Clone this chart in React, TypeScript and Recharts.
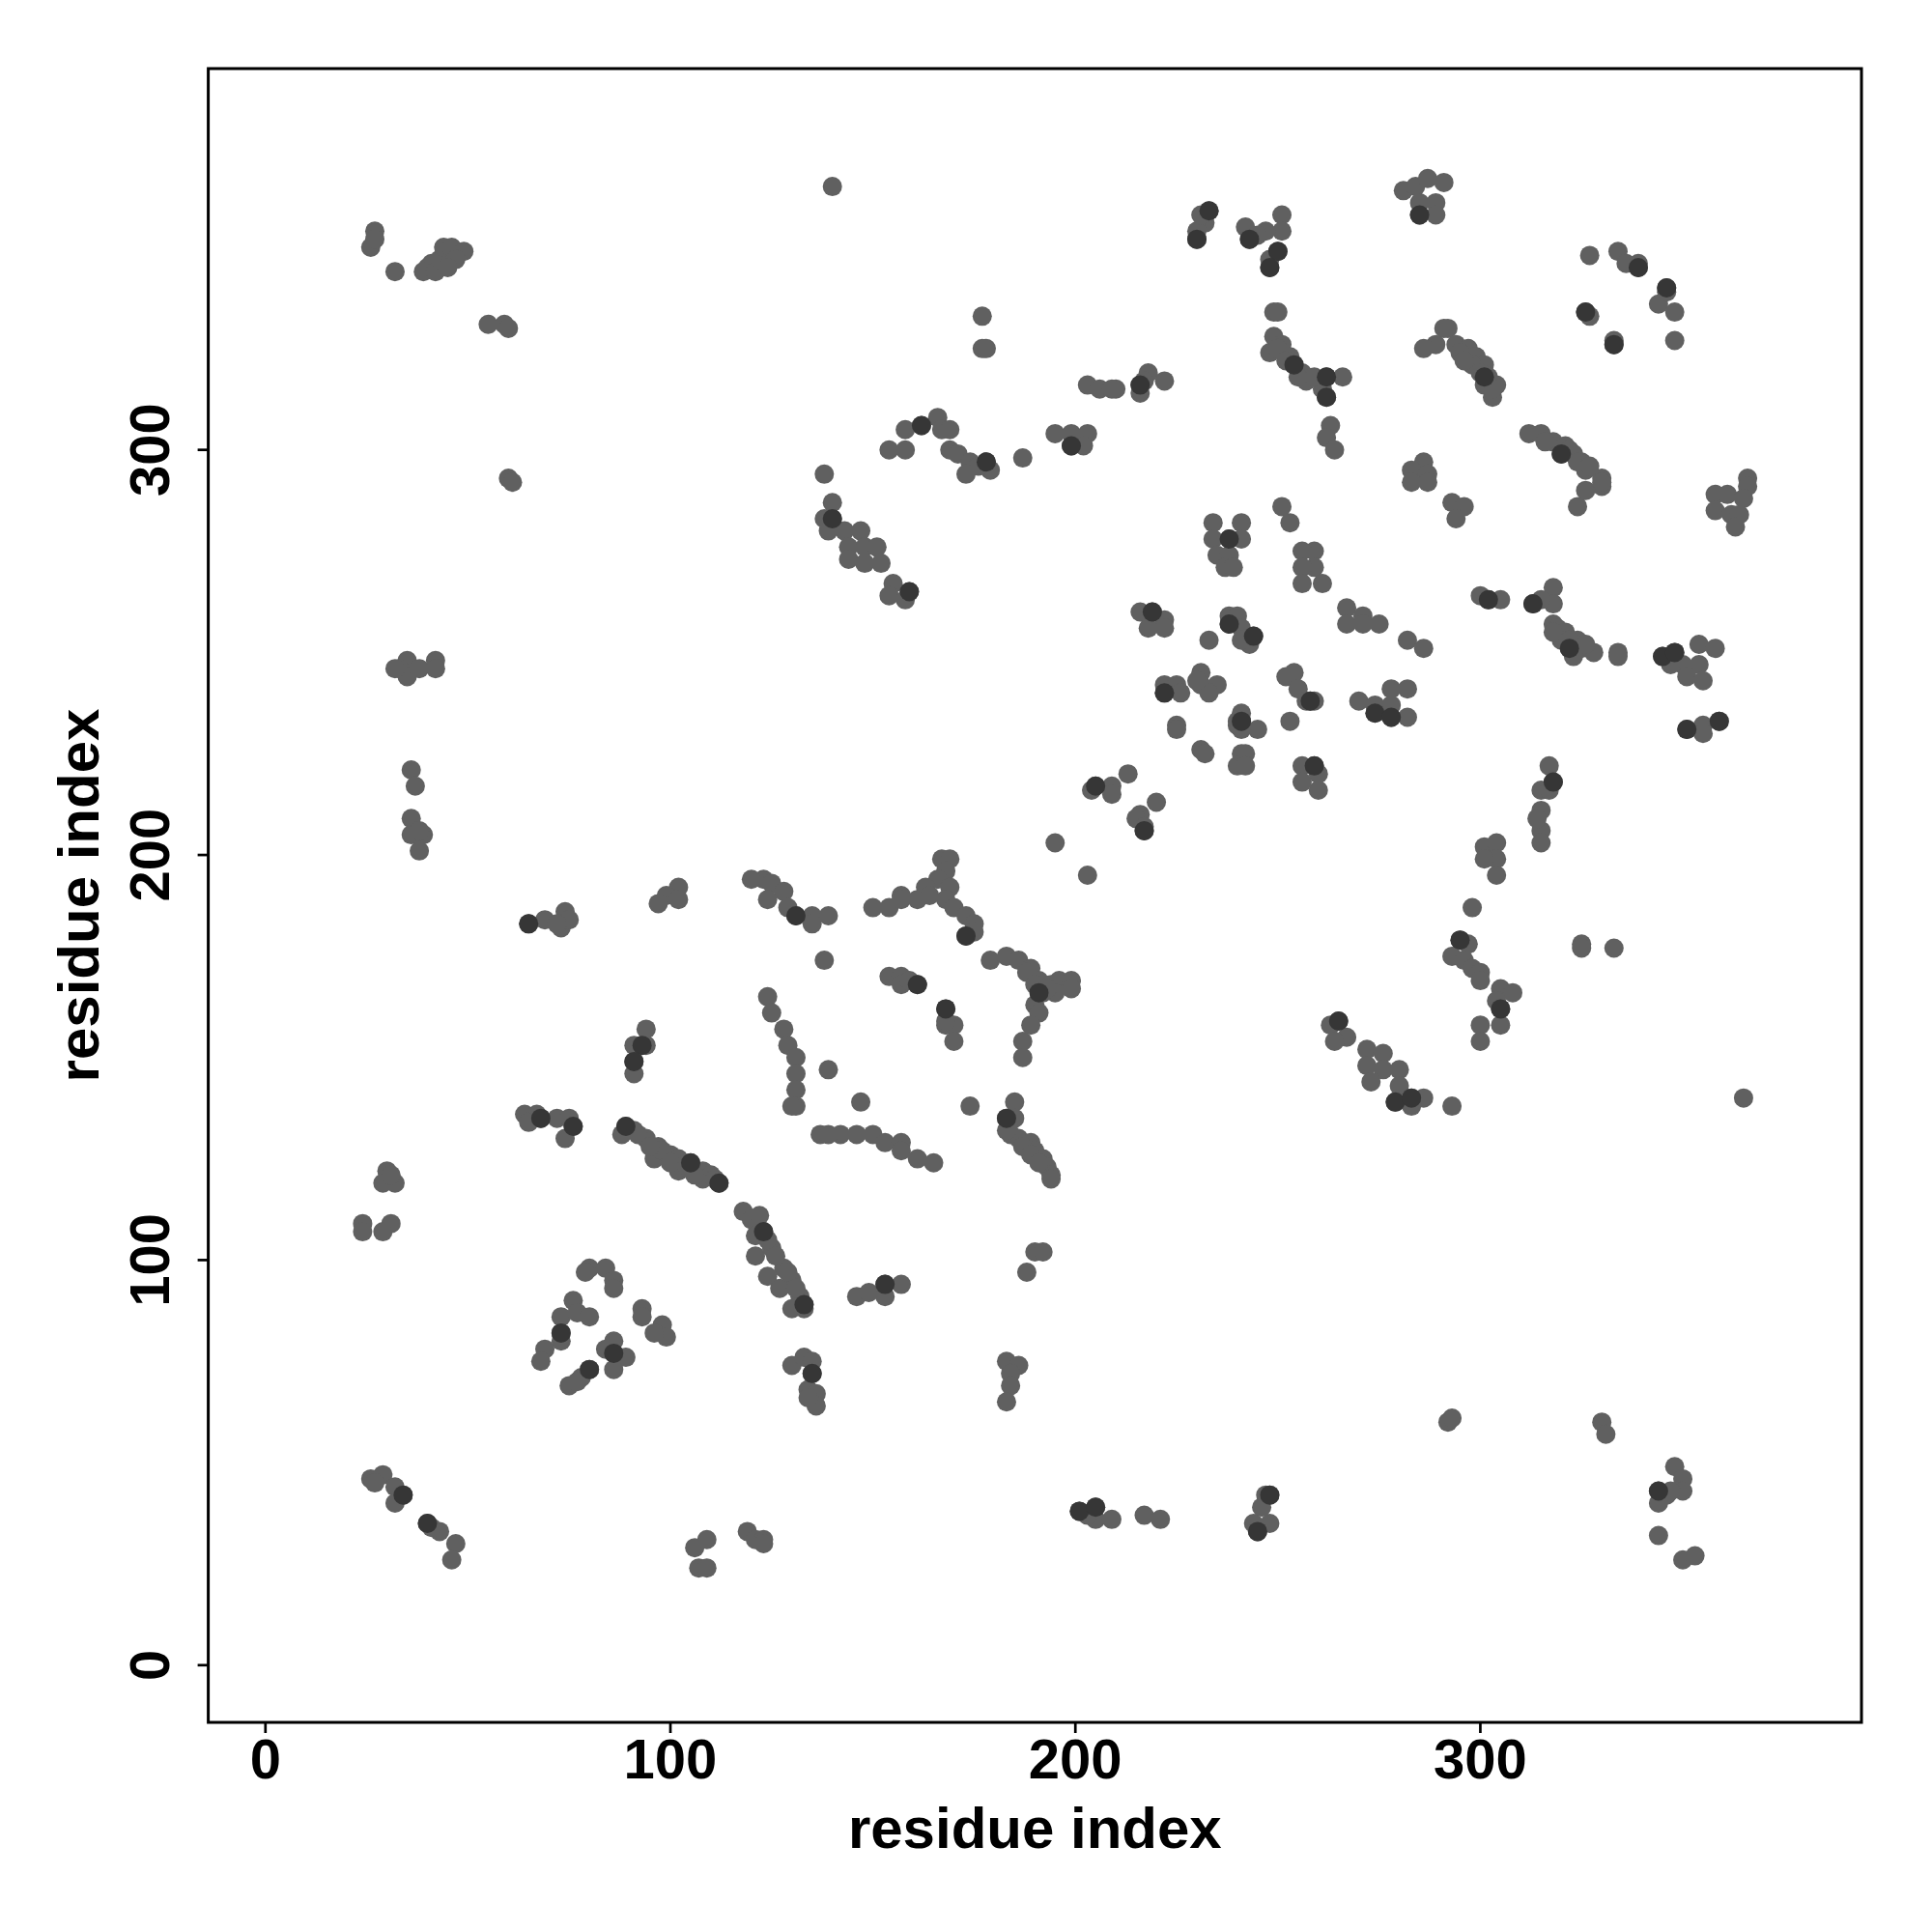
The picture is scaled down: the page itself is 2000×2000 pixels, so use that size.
import React from 'react';
import { ScatterChart, Scatter, XAxis, YAxis, ReferenceArea } from 'recharts';

// Contact pairs [residue i, residue j], grouped by region of the map
const topLeftContacts = [
  [27,354],[26,350],[27,352],[32,344],[40,345],[41,346],[39,344],[42,344],[43,347],[44,350],[46,350],[49,349],[47,347],[45,345],
  [55,331],[59,331],[60,330],[60,293],[61,292],
];
const topMiddleContacts = [
  [140,365],[177,333],[177,325],[178,325],
  [233,359],[232,356],[230,354],[230,352],[231,358],
  [242,355],[251,358],[251,354],[247,354],[248,347],[248,345],[245,353],[250,349],[243,352],
  [249,334],[250,334],
  [249,328],[248,324],[251,326],[253,323],[254,321],[256,319],[257,317],[250,325],[252,322],[255,318],
  [203,316],[206,315],[210,315],[209,315],[216,316],[218,319],[222,317],[216,314],[217,317],
  [195,304],[199,304],[203,304],[199,301],[202,301],[187,298],
  [158,305],[162,306],[166,308],[167,305],[154,300],[158,300],[169,305],
  [169,300],[171,299],[174,297],[178,297],[179,295],[176,296],[173,294],[138,294],
];
const topRightContacts = [
  [281,364],[284,365],[287,367],[291,366],[289,361],[285,358],[289,358],[285,361],
  [327,348],[334,349],[336,346],[339,346],[339,345],
  [346,340],[344,336],[348,334],[346,339],[348,327],
  [326,334],[327,333],[333,326],[333,327],
  [291,330],[289,326],[286,325],[292,330],
  [294,326],[297,325],[299,323],[301,321],[302,318],[304,316],[303,313],[295,324],[298,321],[301,316],[296,322],[300,319],[303,315],
  [262,318],[266,318],[261,315],[262,313],[259,318],
  [263,306],[262,303],[264,300],
  [286,297],[283,295],[287,294],
  [312,304],[315,304],[318,302],[321,301],[323,299],[325,297],[326,295],[330,293],[316,302],[320,299],[322,300],[324,297],[327,296],
  [366,293],
];
const rightMiddleContacts = [
  [283,292],[287,292],[293,287],[296,286],[294,283],
  [324,286],[326,290],[330,291],[330,292],
  [358,289],[361,289],[366,291],[365,288],[358,285],[362,284],[364,284],[363,281],
  [259,275],[259,271],[261,267],
  [267,261],[271,259],[267,257],[275,257],[271,257],[282,253],[286,251],
  [300,264],[302,263],[305,263],
  [318,266],[313,262],[318,262],[315,263],
  [318,257],[319,256],[321,255],[324,253],[325,251],[328,250],[323,249],[322,251],[320,253],[318,255],[322,253],[326,252],
  [334,250],[334,249],
  [345,249],[348,250],[350,247],[354,252],[358,251],[354,247],[351,244],[355,243],[347,247],
  [351,231],[355,232],[359,233],[355,230],
  [258,238],[259,238],
  [270,238],[274,237],[278,241],[282,241],[278,237],[282,234],[278,234],[274,235],
  [259,222],[260,220],[260,216],
  [317,222],[318,218],[315,216],[317,216],
  [315,211],[315,206],[315,203],[314,209],
  [301,202],[304,203],[304,199],[301,199],[304,195],
];
const centerContacts = [
  [140,287],[140,283],[138,283],[139,280],[143,280],[147,280],[144,276],[148,276],[151,276],[144,273],[148,272],[152,272],
  [155,267],[159,265],[154,264],[158,263],
  [216,260],[219,260],[222,258],[218,256],[222,256],[233,253],
  [238,259],[240,259],[241,256],[244,254],[243,252],[238,257],[241,253],
  [234,282],[241,282],[234,278],[238,278],[241,278],[235,274],[238,274],[237,271],[239,271],
  [251,286],[253,282],[256,275],[256,271],[256,267],
  [222,242],[225,242],[222,240],[226,240],
  [231,245],[231,242],[235,242],[233,240],[230,243],
  [252,244],[254,245],[255,241],[257,238],[253,233],
  [225,232],[225,231],
  [241,235],[241,233],[240,232],[245,231],[241,231],[240,233],
  [231,226],[232,225],
  [241,225],[242,225],[240,222],[242,222],
  [256,222],[256,218],
  [205,217],[209,217],[213,220],[209,215],[204,216],
  [220,213],[216,210],[215,209],[217,206],[217,207],
  [195,203],[203,195],
  [167,199],[169,199],[168,196],[166,194],[169,192],[163,192],[157,190],
  [123,194],[125,193],[128,191],
];
const leftMiddleContacts = [
  [35,248],[33,246],[35,244],[38,246],[42,248],[42,246],[32,246],
  [36,221],[37,217],
  [36,209],[36,205],[39,205],[38,201],[38,206],
  [102,192],[99,190],[120,194],
  [65,183],[69,184],[74,186],[73,182],[75,184],[72,183],
  [97,188],[102,189],
  [94,157],[93,153],[91,153],[91,149],[91,146],[94,153],
  [64,136],[67,136],[68,135],[72,135],[75,135],[76,133],[74,130],[65,134],
  [89,133],[91,132],[94,130],[97,128],[100,126],[102,125],[105,124],[108,122],[110,121],[112,119],
  [88,131],[96,125],[102,122],[108,120],[92,131],[98,127],[95,128],[100,124],[104,123],[106,121],[111,120],
  [30,122],[32,119],[29,119],[31,121],
  [24,109],[24,107],[31,109],[29,107],
  [118,112],[120,110],[121,106],[121,101],
  [80,98],[84,98],[86,95],[86,93],[79,97],
  [76,90],[93,88],
];
const lowerCenterContacts = [
  [124,189],[129,187],[131,185],[135,185],[139,185],[135,183],
  [150,187],[154,187],[157,189],[161,189],
  [164,190],[168,189],[170,187],[173,185],[175,183],[173,180],[175,181],
  [138,174],
  [179,174],[183,175],[186,174],[189,172],[191,169],[194,168],[196,169],[199,169],[199,167],[195,166],[192,166],
  [190,163],[191,161],[189,158],[187,154],[187,150],[193,167],[188,171],[190,168],
  [154,170],[157,170],[157,168],[161,168],[159,169],
  [168,162],[168,158],[170,158],[170,154],[168,159],
  [124,165],[125,161],[128,157],[129,153],[131,150],[131,146],[131,142],[131,138],[130,138],
  [139,147],[147,139],[174,138],
  [137,131],[142,131],[146,131],[150,131],[153,129],[157,129],[157,127],[161,125],[165,124],[139,131],
  [185,139],[185,135],[183,135],[184,131],[186,130],[189,129],[190,127],[192,125],[193,123],[194,121],[194,120],[183,132],
  [187,128],[189,126],[191,124],
  [190,102],[192,102],[188,97],
  [122,111],[123,107],[125,103],[128,98],[130,95],[132,91],[133,89],[124,96],[127,93],[124,105],[126,101],[129,97],[131,93],
  [146,91],[149,92],[153,94],[153,91],[157,94],
];
const lowerRightContacts = [
  [298,187],
  [295,179],[297,178],[293,175],[296,174],[298,172],[300,171],[300,169],
  [305,167],[308,166],[305,162],[305,158],[304,164],
  [300,158],[300,154],
  [325,178],[325,177],[333,177],
  [265,159],[263,158],[267,155],[264,154],
  [272,152],[272,148],[276,151],[276,147],[273,144],[280,147],[280,143],[279,139],[283,140],[286,140],[283,138],[293,138],
  [365,140],
];
const bottomContacts = [
  [73,86],[77,87],[80,86],[73,80],[69,78],[68,75],[73,82],
  [86,80],[86,77],[89,76],[86,73],[84,78],
  [80,73],[78,71],[75,69],[77,70],
  [93,86],[98,84],[99,81],[96,82],
  [26,46],[29,47],[32,44],[34,42],[32,40],[27,45],
  [40,35],[43,33],[47,30],[46,26],[41,34],
  [106,29],[109,31],[107,24],[109,24],
  [119,33],[121,31],
  [130,88],[133,88],
  [130,74],[133,76],[135,75],[135,72],[134,68],[136,67],[136,64],[134,66],
  [183,75],[186,74],[184,72],[184,69],[183,65],
  [201,38],[205,39],[205,36],[209,36],[203,37],
  [217,37],[221,36],
  [247,42],[248,42],[246,39],[244,35],[248,35],[245,33],
  [123,31],[123,30],
  [292,60],[293,61],[330,60],[331,57],
  [348,49],[350,46],[350,43],[344,43],[346,42],[344,40],[347,43],
  [344,32],[350,26],[353,27],
];
const strongContacts = [
  [233,359],[250,349],[248,345],[243,352],[230,352],[254,321],[216,316],[199,301],[162,306],[178,297],
  [285,358],[301,318],[339,345],[346,340],[333,326],[326,334],[262,313],[262,318],[320,299],
  [159,265],[219,260],[244,254],[238,257],[238,278],[241,233],[222,240],[217,206],[205,217],[140,283],
  [302,263],[313,262],[345,249],[348,250],[359,233],[351,231],[258,238],[259,222],[274,235],[278,234],[318,218],[322,251],
  [65,183],[93,153],[91,149],[68,135],[76,133],[89,133],[112,119],[105,124],
  [131,185],[161,168],[168,162],[173,180],[191,166],[183,135],[153,94],[123,107],[133,89],
  [265,159],[279,139],[283,140],[295,179],[305,162],
  [73,82],[80,73],[86,77],[34,42],[40,35],
  [135,72],[201,38],[205,39],[248,42],[245,33],
  [344,43],
];
const axisTicks = [0, 100, 200, 300];
const axisTitle = 'residue index';

const DOMAIN: [number, number] = [-14.12, 394.12];
const FONT = '"Liberation Sans", Arial, Helvetica, sans-serif';
const LIGHT = '#606060';
const DARK = '#363636';
const R = 10;

const toPoints = (arr: number[][]) => arr.map(([i, j]) => ({ i, j }));

const contacts = toPoints([
  ...topLeftContacts, ...topMiddleContacts, ...topRightContacts, ...rightMiddleContacts,
  ...centerContacts, ...leftMiddleContacts, ...lowerCenterContacts, ...lowerRightContacts, ...bottomContacts,
]);
const strong = toPoints(strongContacts);

const dot = (color: string) => (p: any) => <circle cx={p.cx} cy={p.cy} r={R} fill={color} />;

const YTick = (p: any) => (
  <text
    x={p.x}
    y={p.y}
    transform={`rotate(-90, ${p.x}, ${p.y})`}
    textAnchor="middle"
    fontFamily={FONT}
    fontWeight="bold"
    fontSize={58}
    fill="#000"
  >
    {p.payload.value}
  </text>
);

export default function App() {
  return (
    <ScatterChart width={1960} height={1960} margin={{ top: 63, right: 41, bottom: 0, left: 0 }}>
      <XAxis
        dataKey="i"
        type="number"
        domain={DOMAIN}
        allowDataOverflow
        ticks={axisTicks}
        interval={0}
        axisLine={false}
        tickLine={{ stroke: '#000', strokeWidth: 2.7 }}
        tickSize={11}
        tickMargin={6}
        height={185}
        tick={{ fill: '#000', fontSize: 58, fontWeight: 'bold', fontFamily: FONT }}
        label={() => (
          <text x={1063.3} y={1905} textAnchor="middle" fontFamily={FONT} fontWeight="bold" fontSize={60} fill="#000">
            {axisTitle}
          </text>
        )}
      />
      <YAxis
        dataKey="j"
        type="number"
        domain={DOMAIN}
        allowDataOverflow
        ticks={axisTicks}
        interval={0}
        axisLine={false}
        tickLine={{ stroke: '#000', strokeWidth: 2.7 }}
        tickSize={11}
        tickMargin={29.6}
        width={207.6}
        tick={<YTick />}
        label={() => (
          <text
            x={94}
            y={919}
            transform="rotate(-90, 94, 919)"
            textAnchor="middle"
            fontFamily={FONT}
            fontWeight="bold"
            fontSize={60}
            fill="#000"
          >
            {axisTitle}
          </text>
        )}
      />
      <Scatter data={contacts} isAnimationActive={false} shape={dot(LIGHT)} />
      <Scatter data={strong} isAnimationActive={false} shape={dot(DARK)} />
      <ReferenceArea
        x1={DOMAIN[0]}
        x2={DOMAIN[1]}
        y1={DOMAIN[0]}
        y2={DOMAIN[1]}
        fill="none"
        fillOpacity={0}
        stroke="#000"
        strokeWidth={3}
        ifOverflow="visible"
      />
    </ScatterChart>
  );
}
